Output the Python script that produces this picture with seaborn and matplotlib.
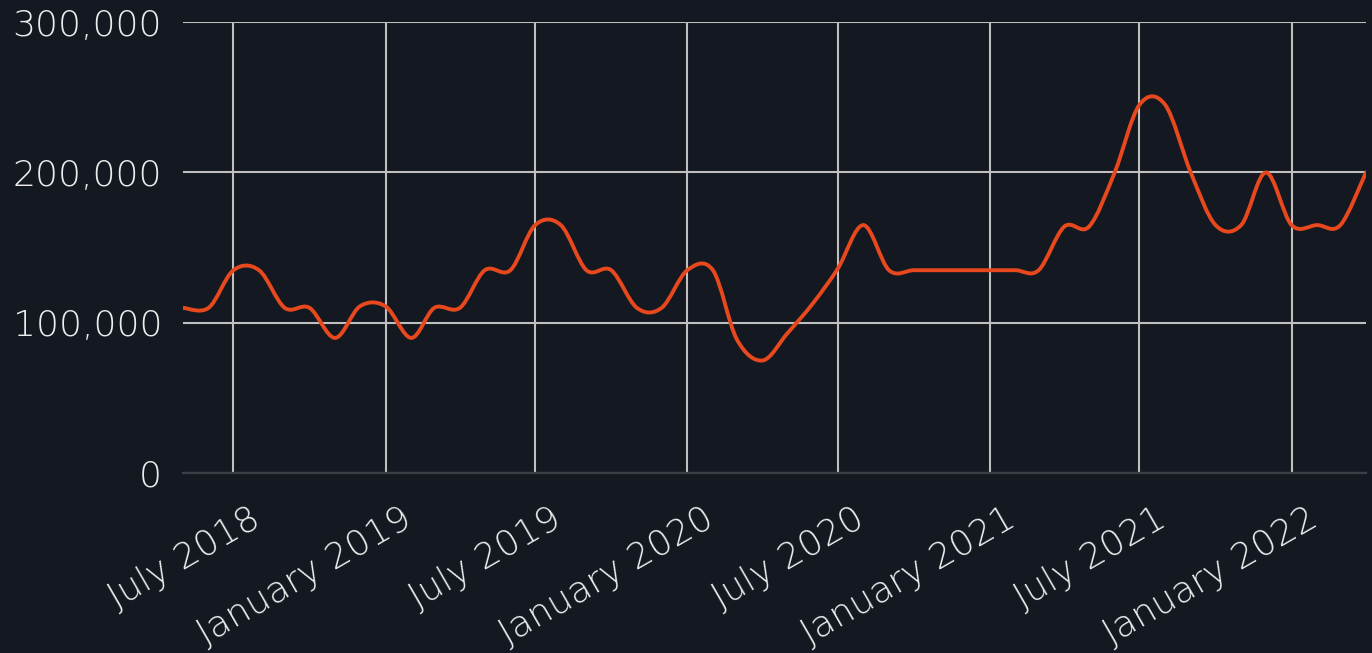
import matplotlib

matplotlib.use("Agg")

import matplotlib.dates as mdates
import matplotlib.pyplot as plt
import numpy as np
import pandas as pd
import seaborn as sns
from matplotlib.patches import PathPatch
from matplotlib.path import Path
from matplotlib.transforms import ScaledTranslation
from matplotlib.ticker import FuncFormatter, MultipleLocator

# monthly values, May 2018 .. April 2022
months = pd.date_range("2018-05-01", "2022-04-01", freq="MS")
values_2018 = [110000, 110000, 135000, 135000, 110000, 110000, 90000, 111000]
values_2019 = [111000, 90000, 110000, 110000, 135000, 135000,
               165000, 165000, 135000, 135000, 110000, 110000]
values_2020 = [135000, 135000, 89000, 75000, 93000, 113000,
               136000, 165000, 135000, 135000, 135000, 135000]
values_2021 = [135000, 135000, 135000, 164000, 164000, 200000,
               245000, 245000, 200000, 165000, 165000, 200000]
values_2022 = [165000, 165000, 165000, 200000]
values = values_2018 + values_2019 + values_2020 + values_2021 + values_2022

y_ticks = [0, 100000, 200000, 300000]

BG = "#131821"
LINE = "#e8481d"
GRID = "#bfbfbf"
BASE = "#3b3e45"
TEXT = "#ececec"


def _cardinal_path(x: np.ndarray, y: np.ndarray) -> Path:
    # smooth line like the original chart: cardinal spline (tension 0) as bezier segments
    px = np.concatenate([[x[0]], x, [x[-1]]])
    py = np.concatenate([[y[0]], y, [y[-1]]])
    verts = [(px[1], py[1])]
    codes = [Path.MOVETO]
    for i in range(1, len(px) - 2):
        c1 = (px[i] + (px[i + 1] - px[i - 1]) / 6, py[i] + (py[i + 1] - py[i - 1]) / 6)
        c2 = (px[i + 1] - (px[i + 2] - px[i]) / 6, py[i + 1] - (py[i + 2] - py[i]) / 6)
        verts += [c1, c2, (px[i + 1], py[i + 1])]
        codes += [Path.CURVE4] * 3
    return Path(verts, codes)


def main() -> None:
    sns.set_theme(
        style="darkgrid",
        rc={
            "figure.facecolor": BG,
            "axes.facecolor": BG,
            "grid.color": GRID,
            "grid.linewidth": 1.5,
            "text.color": TEXT,
            "xtick.color": TEXT,
            "ytick.color": TEXT,
            "axes.edgecolor": BASE,
        },
    )
    plt.rcParams["font.family"] = ["DejaVu Sans"]
    plt.rcParams["font.weight"] = "light"

    W, H = 1372, 653
    fig = plt.figure(figsize=(W / 100, H / 100), dpi=100)
    ax = fig.add_axes([183 / W, 1 - 473.3 / H, (1366 - 183) / W, (473.3 - 22) / H])
    ax.set_axisbelow(True)

    x = mdates.date2num(months.to_pydatetime())
    y = np.asarray(values, dtype=float)
    ax.add_patch(PathPatch(_cardinal_path(x, y), facecolor="none", edgecolor=LINE,
                           linewidth=2.8, capstyle="round", joinstyle="round", zorder=3))

    ax.set_xlim(x[0], x[-1])
    ax.set_ylim(y_ticks[0], y_ticks[-1])
    ax.yaxis.set_major_locator(MultipleLocator(100000))
    ax.yaxis.set_major_formatter(FuncFormatter(lambda v, _: f"{v:,.0f}"))
    ax.xaxis.set_major_locator(mdates.MonthLocator(bymonth=(1, 7)))
    ax.xaxis.set_major_formatter(mdates.DateFormatter("%B %Y"))

    ax.grid(True, axis="both")
    for spine in ("left", "right", "top"):
        ax.spines[spine].set_visible(False)
    ax.spines["bottom"].set_color(BASE)
    ax.spines["bottom"].set_linewidth(1.6)
    ax.spines["bottom"].set_zorder(2)

    ax.tick_params(axis="both", length=0, labelsize=26, colors=TEXT)
    ax.tick_params(axis="y", pad=15)
    ax.tick_params(axis="x", pad=20)
    ax.set_xlabel("")
    ax.set_ylabel("")

    fig.canvas.draw()
    ax.get_ygridlines()[0].set_visible(False)
    offset = ScaledTranslation(0.32, 0, fig.dpi_scale_trans)
    for lbl in ax.get_xticklabels():
        lbl.set_rotation(30)
        lbl.set_ha("right")
        lbl.set_transform(lbl.get_transform() + offset)

    fig.savefig("out.png", dpi=100, facecolor=BG)
    plt.close(fig)


if __name__ == "__main__":
    main()
